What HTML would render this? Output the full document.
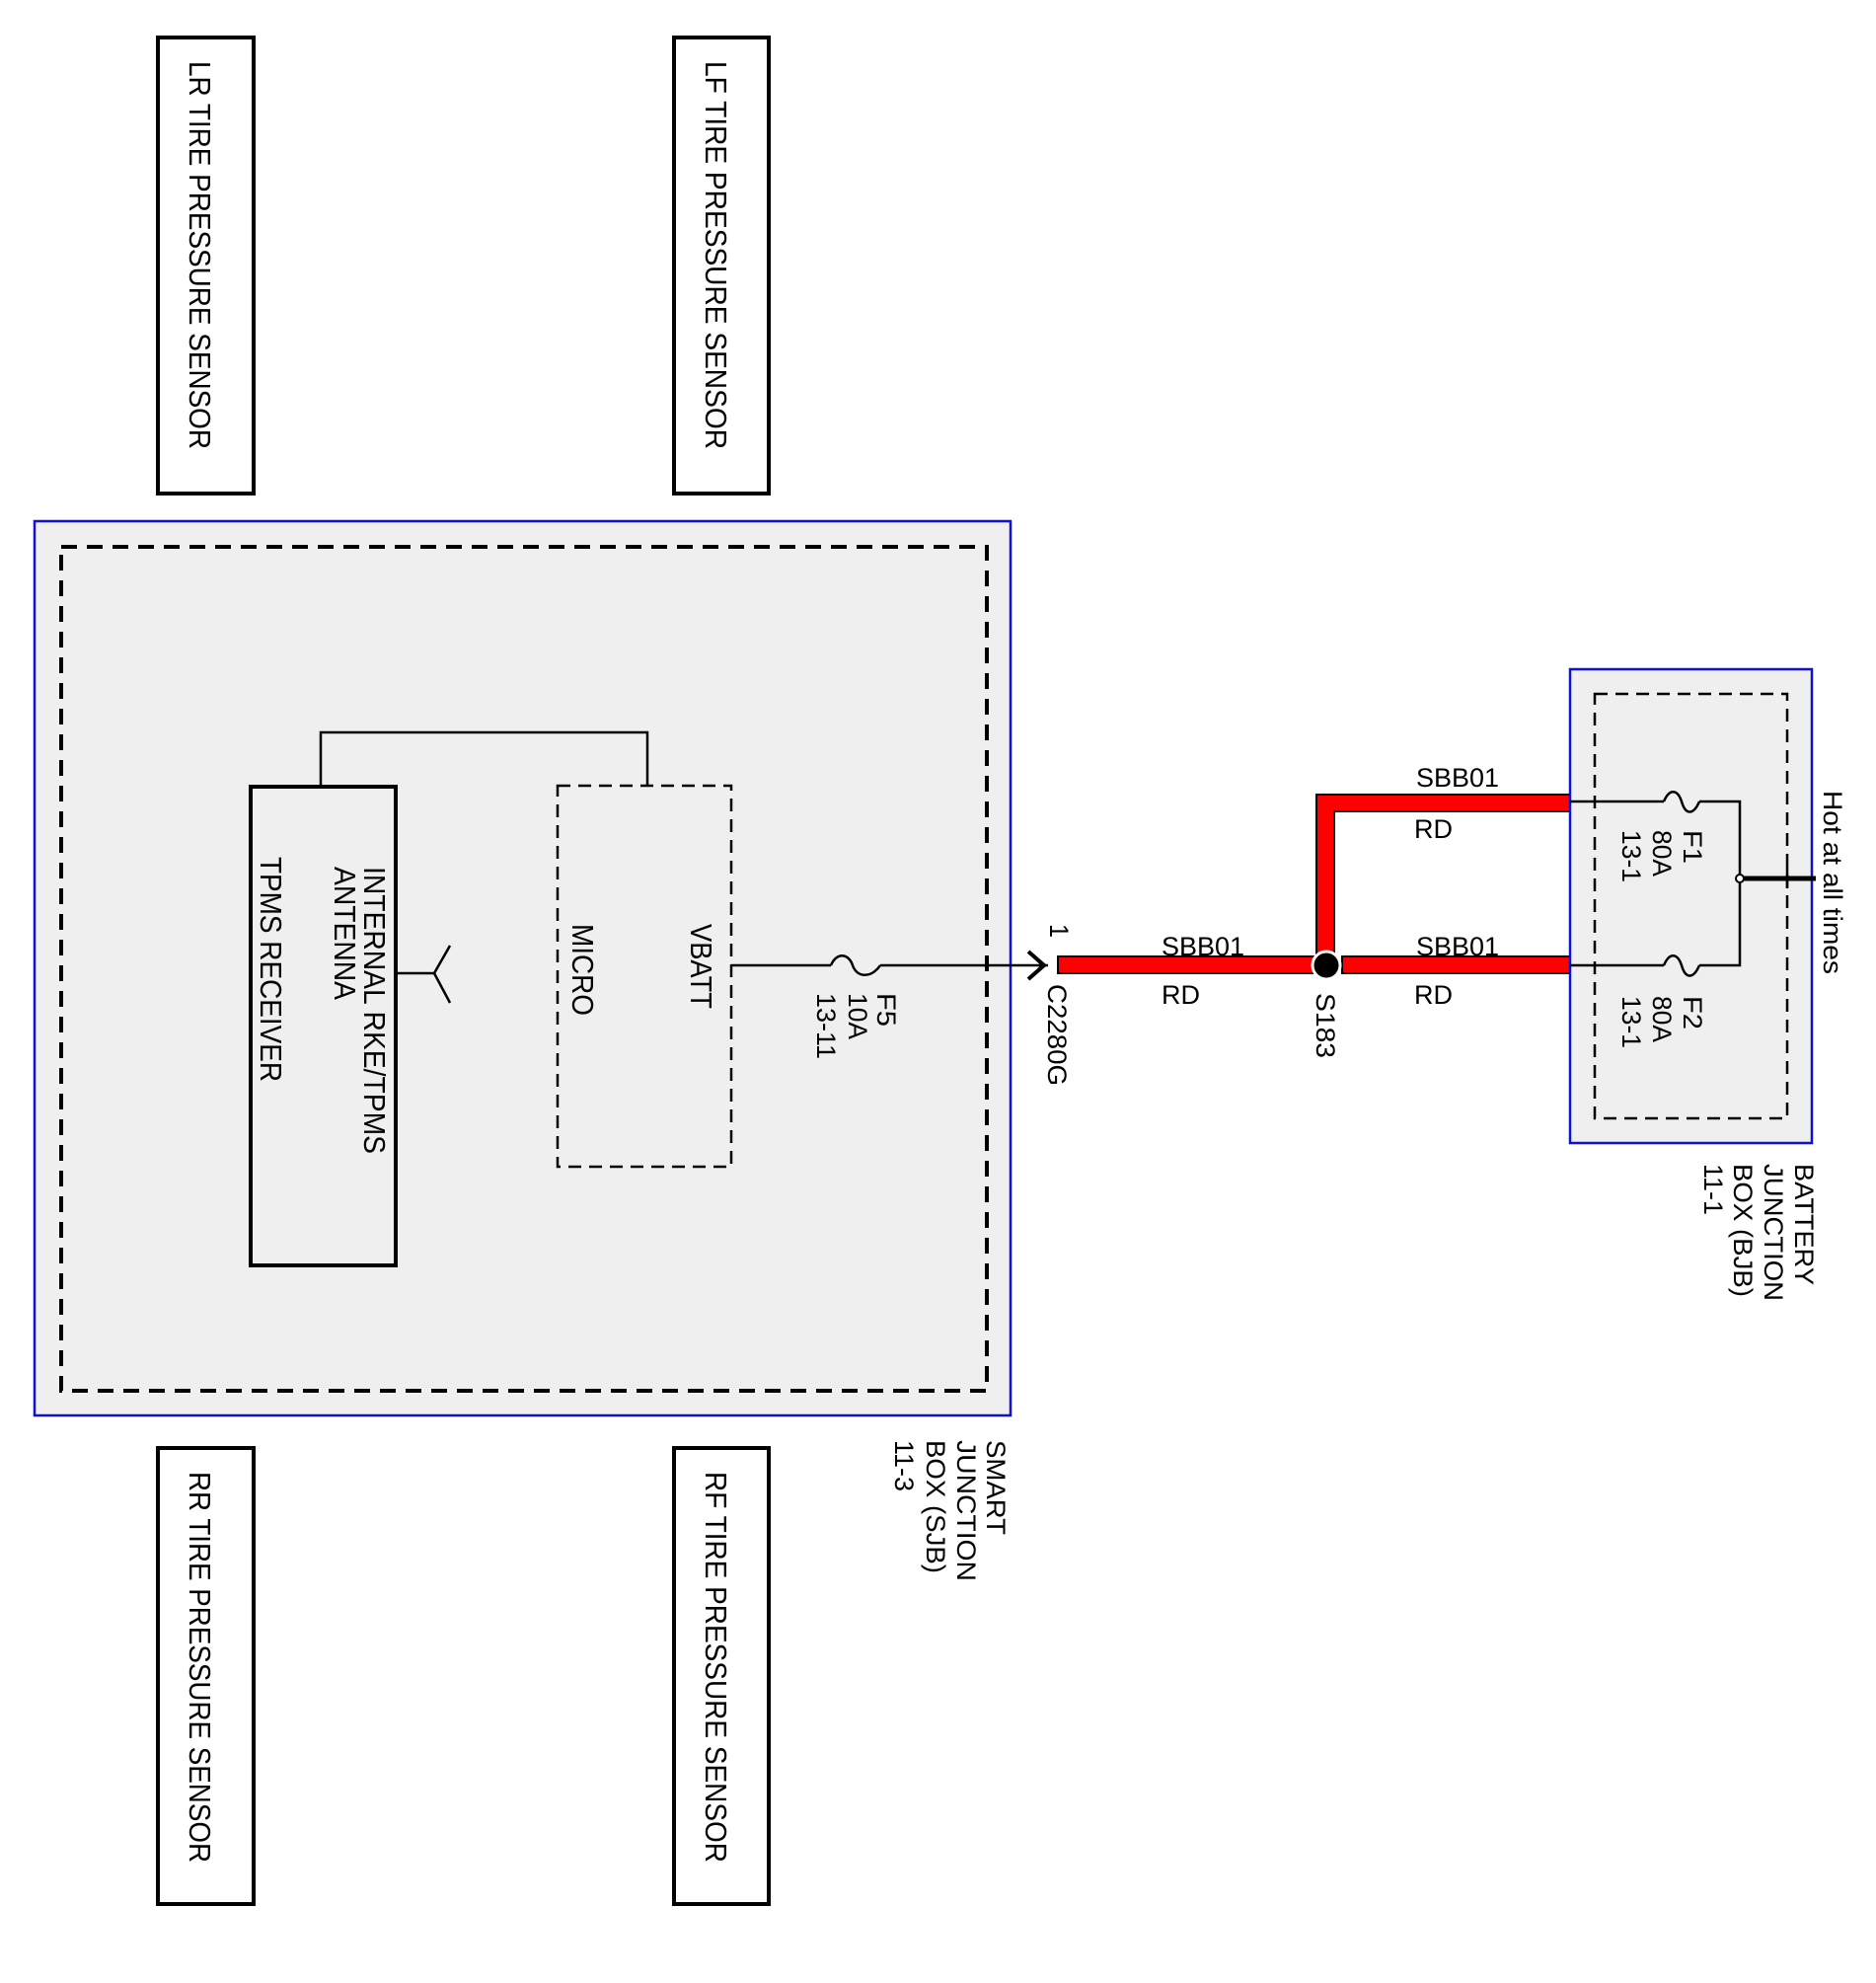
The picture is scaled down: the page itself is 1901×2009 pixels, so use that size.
<!DOCTYPE html>
<html><head><meta charset="utf-8"><style>
html,body{margin:0;padding:0;background:#fff;}
svg{display:block;}
text{font-family:"Liberation Sans",Arial,sans-serif;fill:#000;}
</style></head><body>
<svg width="1901" height="2009" viewBox="0 0 1901 2009" xmlns="http://www.w3.org/2000/svg">
<!-- sensor boxes -->
<g fill="none" stroke="#000" stroke-width="4">
<rect x="160" y="38" width="97" height="462"/>
<rect x="683" y="38" width="96" height="462"/>
<rect x="160" y="1467" width="97" height="462"/>
<rect x="683" y="1467" width="96" height="462"/>
</g>
<g font-size="31">
<text transform="translate(192,62) rotate(90)" textLength="393" lengthAdjust="spacingAndGlyphs">LR TIRE PRESSURE SENSOR</text>
<text transform="translate(715,62) rotate(90)" textLength="393" lengthAdjust="spacingAndGlyphs">LF TIRE PRESSURE SENSOR</text>
<text transform="translate(192,1491) rotate(90)" textLength="396" lengthAdjust="spacingAndGlyphs">RR TIRE PRESSURE SENSOR</text>
<text transform="translate(715,1491) rotate(90)" textLength="396" lengthAdjust="spacingAndGlyphs">RF TIRE PRESSURE SENSOR</text>
</g>
<!-- SJB -->
<rect x="35" y="528" width="989" height="906" fill="#efefef" stroke="#1010d0" stroke-width="2.5"/>
<rect x="62" y="554" width="938" height="855" fill="none" stroke="#000" stroke-width="4" stroke-dasharray="16,10"/>
<rect x="254" y="797" width="147" height="485" fill="none" stroke="#000" stroke-width="4"/>
<rect x="565" y="796" width="176" height="386" fill="none" stroke="#000" stroke-width="2.5" stroke-dasharray="13,8"/>
<polyline points="325,797 325,742 656,742 656,796" fill="none" stroke="#000" stroke-width="2.5"/>
<g stroke="#000" stroke-width="2.5" fill="none">
<line x1="401" y1="986" x2="440" y2="986"/>
<line x1="440" y1="986" x2="456" y2="958"/>
<line x1="440" y1="986" x2="456" y2="1016"/>
<line x1="741" y1="978" x2="842" y2="978"/>
<path d="M842,978 C848,964 860,966 864,978 C868,990 882,992 892,978"/>
<line x1="892" y1="978" x2="1062" y2="978"/>
<polyline points="1042,964 1058,978 1042,992" stroke-width="4"/>
<polyline points="1048,970 1056,978 1048,986" stroke-width="2"/>
</g>
<g font-size="31">
<text transform="translate(369,878) rotate(90)" textLength="291" lengthAdjust="spacingAndGlyphs">INTERNAL RKE/TPMS</text>
<text transform="translate(339,878) rotate(90)" textLength="135" lengthAdjust="spacingAndGlyphs">ANTENNA</text>
<text transform="translate(264,868) rotate(90)" textLength="228" lengthAdjust="spacingAndGlyphs">TPMS RECEIVER</text>
<text transform="translate(580,936) rotate(90)" textLength="93" lengthAdjust="spacingAndGlyphs">MICRO</text>
<text transform="translate(700,936) rotate(90)" textLength="86" lengthAdjust="spacingAndGlyphs">VBATT</text>
</g>
<g font-size="27">
<text transform="translate(889,1006) rotate(90)" textLength="34" lengthAdjust="spacingAndGlyphs">F5</text>
<text transform="translate(860,1006) rotate(90)" textLength="47" lengthAdjust="spacingAndGlyphs">10A</text>
<text transform="translate(828,1006) rotate(90)" textLength="67" lengthAdjust="spacingAndGlyphs">13-11</text>
<text transform="translate(1064,936) rotate(90)" textLength="14" lengthAdjust="spacingAndGlyphs">1</text>
<text transform="translate(1062,997) rotate(90)" textLength="103" lengthAdjust="spacingAndGlyphs">C2280G</text>
<text transform="translate(1334,1006) rotate(90)" textLength="66" lengthAdjust="spacingAndGlyphs">S183</text>
</g>
<g font-size="27">
<text transform="translate(1000,1459) rotate(90)" textLength="96" lengthAdjust="spacingAndGlyphs">SMART</text>
<text transform="translate(970,1459) rotate(90)" textLength="143" lengthAdjust="spacingAndGlyphs">JUNCTION</text>
<text transform="translate(939,1459) rotate(90)" textLength="135" lengthAdjust="spacingAndGlyphs">BOX (SJB)</text>
<text transform="translate(907,1459) rotate(90)" textLength="52" lengthAdjust="spacingAndGlyphs">11-3</text>
</g>
<!-- red wires -->
<g fill="#ff0000" stroke="#000" stroke-width="2">
<rect x="1072" y="969" width="262" height="17"/>
<rect x="1360" y="969" width="231" height="17"/>
<path d="M1334,805 H1591 V822 H1352 V969 H1334 Z"/>
</g>
<circle cx="1344" cy="978" r="14" fill="#000" stroke="#fff" stroke-width="3"/>
<g font-size="27">
<text x="1177" y="968" textLength="84" lengthAdjust="spacingAndGlyphs">SBB01</text>
<text x="1177" y="1017" textLength="39" lengthAdjust="spacingAndGlyphs">RD</text>
<text x="1435" y="968" textLength="84" lengthAdjust="spacingAndGlyphs">SBB01</text>
<text x="1433" y="1017" textLength="39" lengthAdjust="spacingAndGlyphs">RD</text>
<text x="1435" y="797" textLength="84" lengthAdjust="spacingAndGlyphs">SBB01</text>
<text x="1433" y="849" textLength="39" lengthAdjust="spacingAndGlyphs">RD</text>
</g>
<!-- BJB -->
<rect x="1591" y="678" width="245" height="480" fill="#efefef" stroke="#1010d0" stroke-width="2.5"/>
<rect x="1616" y="703" width="195" height="430" fill="none" stroke="#000" stroke-width="2.5" stroke-dasharray="13,8"/>
<g stroke="#000" stroke-width="2.5" fill="none">
<line x1="1591" y1="812" x2="1686" y2="812"/>
<path d="M1686,812 C1692,798 1700,800 1704,812 C1708,826 1716,826 1722,812"/>
<polyline points="1722,812 1763,812 1763,978 1722,978"/>
<line x1="1591" y1="978" x2="1686" y2="978"/>
<path d="M1686,978 C1692,964 1700,966 1704,978 C1708,992 1716,992 1722,978"/>
<line x1="1766" y1="890" x2="1840" y2="890" stroke-width="5"/>
<line x1="1811" y1="878" x2="1811" y2="900"/>
</g>
<circle cx="1763" cy="890" r="4" fill="#fff" stroke="#000" stroke-width="2"/>
<g font-size="27">
<text transform="translate(1706,841) rotate(90)" textLength="34" lengthAdjust="spacingAndGlyphs">F1</text>
<text transform="translate(1675,841) rotate(90)" textLength="47" lengthAdjust="spacingAndGlyphs">80A</text>
<text transform="translate(1644,841) rotate(90)" textLength="53" lengthAdjust="spacingAndGlyphs">13-1</text>
<text transform="translate(1706,1009) rotate(90)" textLength="34" lengthAdjust="spacingAndGlyphs">F2</text>
<text transform="translate(1675,1009) rotate(90)" textLength="47" lengthAdjust="spacingAndGlyphs">80A</text>
<text transform="translate(1644,1009) rotate(90)" textLength="53" lengthAdjust="spacingAndGlyphs">13-1</text>
<text transform="translate(1848,801) rotate(90)" textLength="186" lengthAdjust="spacingAndGlyphs">Hot at all times</text>
<text transform="translate(1819,1179) rotate(90)" textLength="123" lengthAdjust="spacingAndGlyphs">BATTERY</text>
<text transform="translate(1788,1179) rotate(90)" textLength="139" lengthAdjust="spacingAndGlyphs">JUNCTION</text>
<text transform="translate(1757,1179) rotate(90)" textLength="135" lengthAdjust="spacingAndGlyphs">BOX (BJB)</text>
<text transform="translate(1727,1179) rotate(90)" textLength="52" lengthAdjust="spacingAndGlyphs">11-1</text>
</g>
</svg>
</body></html>
